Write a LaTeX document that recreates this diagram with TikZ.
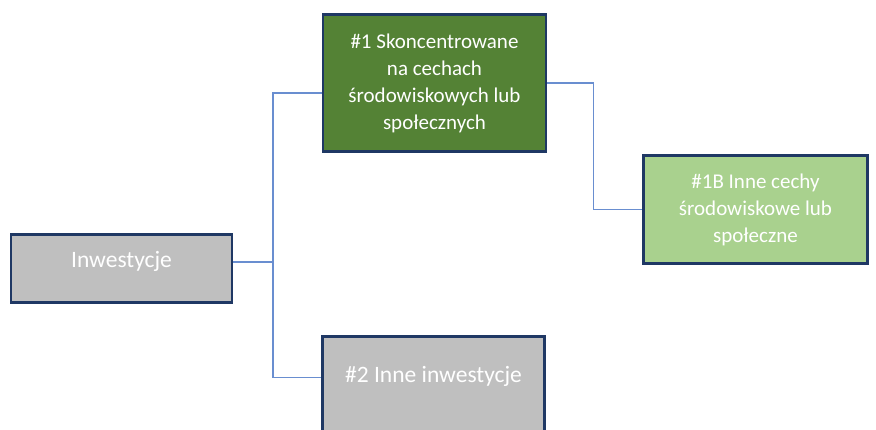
\documentclass[tikz,border=0pt]{standalone}
\usepackage{fontspec}
\setmainfont{Carlito}
\usetikzlibrary{calc}

\definecolor{boxline}{HTML}{1F3864}
\definecolor{darkgreen}{HTML}{548235}
\definecolor{lightgreen}{HTML}{A9D18E}
\definecolor{boxgray}{HTML}{BFBFBF}
\definecolor{linkblue}{HTML}{4472C4}

\tikzset{
  box/.style={draw=boxline, line width=2.5pt, text=white, inner sep=0pt, align=center},
  link/.style={draw=linkblue!80, line width=1.2pt}
}

\begin{document}
\begin{tikzpicture}[x=1pt, y=-1pt]
        \clip (0,0) rectangle (876,429);

        \node[box, fill=boxgray, minimum width=221pt, text height=33pt, text depth=35pt, font=\fontsize{23.5}{28}\selectfont] (inw) at (121.5,268.5) {Inwestycje};
        \node[box, fill=darkgreen, minimum width=223pt, minimum height=137pt, font=\fontsize{21}{27}\selectfont] (skon) at (434.5,83) {\#1 Skoncentrowane\\na cechach\\środowiskowych lub\\społecznych};
        \node[box, fill=lightgreen, minimum width=224pt, minimum height=108pt, font=\fontsize{21}{27}\selectfont] (inne1b) at (755.5,209.5) {\#1B Inne cechy\\środowiskowe lub\\społeczne};
        \node[box, fill=boxgray, minimum width=222pt, text height=46pt, text depth=70pt, font=\fontsize{23.5}{28}\selectfont, anchor=north] (inne2) at (433.5,335.25) {\#2 Inne inwestycje};

        \coordinate (j1) at (273,262);

        \draw[link] ([yshift=6.5pt]inw.east) -- (j1);
        \draw[link] (j1) |- ([yshift=-10pt]skon.west);
        \draw[link] (j1) |- ([yshift=17pt]inne2.west);
        \draw[link] (skon.east) -- ++(46,0) |- (inne1b.west);
      \end{tikzpicture}
\end{document}
